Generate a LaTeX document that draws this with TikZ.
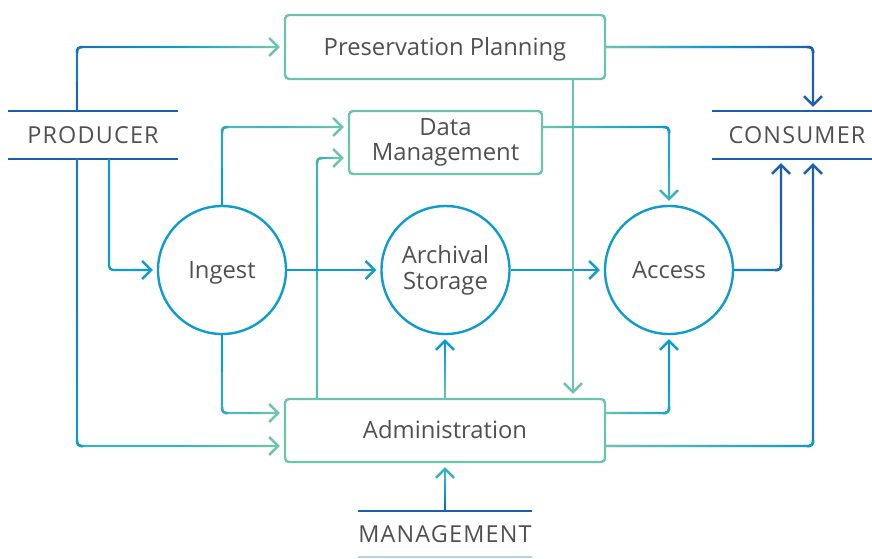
\documentclass[tikz,border=0pt]{standalone}
\usepackage{fontspec}
\setmainfont{Open Sans}
\usetikzlibrary{arrows.meta,calc}
\definecolor{teal}{HTML}{6CC4AE}
\definecolor{blu}{HTML}{0E9BCD}
\definecolor{mid}{HTML}{3DB0C0}
\definecolor{dkb}{HTML}{1E5EAE}
\definecolor{txt}{HTML}{505050}
\definecolor{lite}{HTML}{B9CFE3}
\tikzset{
  every node/.style={text=txt},
  lbl/.style={font=\fontsize{23.8}{25.7}\selectfont},
  capfont/.style={font=\fontsize{23.4}{26}\selectfont\addfontfeature{LetterSpace=5}},
  oneline/.style={text height=16.8pt, text depth=0pt},
  procbox/.style={draw=teal, line width=2.4pt, rounded corners=4pt, lbl, align=center, inner sep=0pt},
  proccirc/.style={draw=blu, line width=2.4pt, circle, minimum size=128pt, inner sep=0pt, lbl, align=center},
  ent/.style={capfont, oneline, minimum width=170pt, inner sep=0pt},
  conn/.style={line width=2.4pt, rounded corners=4pt, -{Straight Barb[length=9pt,width=18pt]}, shorten >=4pt},
  seg/.style={line width=2.5pt},
  bar/.style={line width=2.4pt, draw=dkb},
}
% gradient overlay along a straight leg: from #1 to #2, colours #3 -> #4 -> #5
\newcommand\gradleg[5]{%
  \foreach \k in {0,...,29}{%
    \pgfmathsetmacro\gfa{\k/30}%
    \pgfmathsetmacro\gfb{(\k+1.2)/30}%
    \pgfmathsetmacro\gfm{(\k+0.5)/30}%
    \ifdim\gfm pt<0.5pt
      \pgfmathsetmacro\gpc{100-200*\gfm}\colorlet{gtmp}{#3!\gpc!#4}%
    \else
      \pgfmathsetmacro\gpc{200-200*\gfm}\colorlet{gtmp}{#4!\gpc!#5}%
    \fi
    \draw[seg, draw=gtmp] ($#1!\gfa!#2$) -- ($#1!\gfb!#2$);
  }%
}
% L-shaped connector: start #1, operator #2 (|- or -|), end #3, colours #4..#8
\newcommand\gconn[8]{%
  \draw[conn, draw=#8] (#1) #2 (#3);
  \coordinate (gc) at (#1 #2 #3);
  \gradleg{(#1)}{($(gc)!5pt!(#1)$)}{#4}{#5}{#6}
  \gradleg{($(gc)!5pt!(#3)$)}{($(#3)!13pt!(gc)$)}{#6}{#7}{#8}
  \draw[seg, draw=#6, rounded corners=4pt] ($(gc)!6pt!(#1)$) -- (gc) -- ($(gc)!6pt!(#3)$);
}
% straight connector: start #1, end #2, colours #3..#5
\newcommand\gline[5]{%
  \draw[conn, draw=#5] (#1) -- (#2);
  \gradleg{(#1)}{($(#2)!13pt!(#1)$)}{#3}{#4}{#5}
}
\begin{document}
\begin{tikzpicture}[x=1pt,y=-1pt]
\clip (0,0) rectangle (872,558);
\fill[white] (0,0) rectangle (872,558);
% nodes
\node[procbox, oneline, minimum width=320pt, minimum height=64pt] (pp) at (445,47) {Preservation Planning};
\node[procbox, minimum width=193pt, minimum height=63pt] (dm) at (445.5,142.5) {Data\\Management};
\node[procbox, oneline, minimum width=320pt, minimum height=63pt] (adm) at (445,430.5) {Administration};
\node[proccirc, oneline] (ing) at (222,270) {Ingest};
\node[proccirc] (arc) at (445.5,270) {\rule{0pt}{2pt}Archival\\Storage};
\node[proccirc, oneline] (acc) at (669,270) {Access};
\node[ent, minimum height=48pt] (prod) at (93,135) {PRODUCER};
\node[ent, minimum height=48pt] (cons) at (797,135) {CONSUMER};
\node[ent, minimum height=46pt] (mgmt) at (445,534) {MANAGEMENT};
% entity bars
\draw[bar] (prod.north west) -- (prod.north east);
\draw[bar] (prod.south west) -- (prod.south east);
\draw[bar] (cons.north west) -- (cons.north east);
\draw[bar] (cons.south west) -- (cons.south east);
\draw[bar] (mgmt.north west) -- (mgmt.north east);
\draw[line width=2.4pt, draw=lite] (mgmt.south west) -- (mgmt.south east);
% connector end points on the nodes
\coordinate (p1) at ([xshift=-16pt]prod.north);
\coordinate (p2) at ([xshift=16pt]prod.south);
\coordinate (p3) at ([xshift=-16pt]prod.south);
\coordinate (admL1) at ([yshift=17.5pt]adm.west);
\coordinate (admL2) at ([yshift=-15.5pt]adm.west);
\coordinate (dmL1) at ([yshift=15.5pt]dm.west);
\coordinate (dmL2) at ([yshift=-15.5pt]dm.west);
\coordinate (admT1) at ([xshift=-128pt]adm.north);
\coordinate (ppB) at ([xshift=128pt]pp.south);
\coordinate (admT2) at ([xshift=128pt]adm.north);
\coordinate (consT) at ([xshift=16pt]cons.north);
\coordinate (dmR) at ([yshift=15.5pt]dm.east);
\coordinate (consB1) at ([xshift=-16pt]cons.south);
\coordinate (consB2) at ([xshift=16pt]cons.south);
\coordinate (admR1) at ([yshift=17.5pt]adm.east);
\coordinate (admR2) at ([yshift=-15.5pt]adm.east);
\coordinate (arcS) at (adm.north |- arc.south);
% connectors
\gconn{p1}{|-}{pp.west}{dkb}{dkb!85!blu}{dkb!65!blu}{blu}{teal}
\draw[conn, draw=blu] (p2) |- (ing.west);
\gconn{p3}{|-}{admL2}{dkb}{dkb!50!blu}{blu}{blu!50!teal}{teal}
\gconn{ing.south}{|-}{admL1}{blu}{blu}{blu!65!teal}{blu!35!teal}{teal}
\gconn{ing.north}{|-}{dmL1}{blu}{blu}{blu!75!teal}{blu!40!teal}{teal}
\gconn{admT1}{|-}{dmL2}{teal}{teal!80!blu}{teal!55!blu}{teal!70!blu}{teal}
\draw[conn, draw=blu] (ing.east) -- (arc.west);
\draw[conn, draw=blu] (arc.east) -- (acc.west);
\gline{adm.north}{arcS}{teal}{mid}{blu}
\draw[conn, draw=teal] (ppB) -- (admT2);
\gconn{pp.east}{-|}{consT}{teal}{blu}{dkb}{dkb}{dkb}
\gconn{dmR}{-|}{acc.north}{teal}{blu!60!teal}{blu}{blu!75!teal}{mid}
\gconn{acc.east}{-|}{consB1}{blu}{blu!60!dkb}{dkb!80!blu}{dkb}{dkb}
\gconn{admR1}{-|}{acc.south}{teal}{mid}{blu!75!teal}{blu}{blu}
\gconn{admR2}{-|}{consB2}{teal}{mid}{blu}{blu!50!dkb}{dkb}
\gline{mgmt.north}{adm.south}{dkb}{blu}{mid}
\end{tikzpicture}
\end{document}
